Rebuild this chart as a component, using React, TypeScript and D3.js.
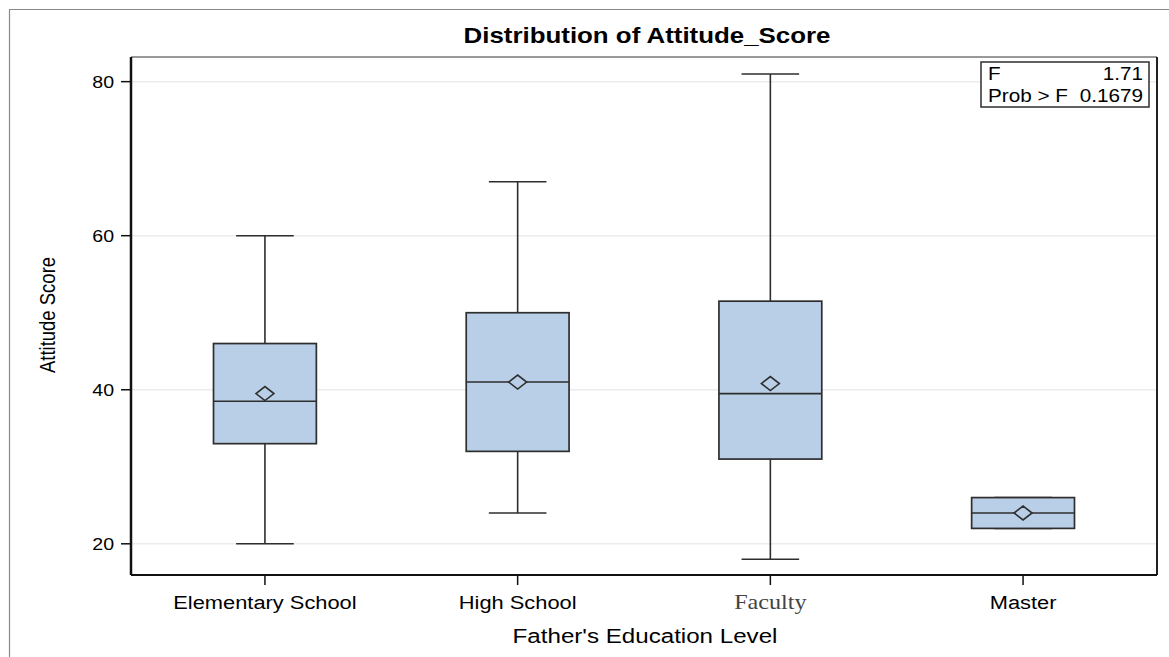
import React from "react";
import * as d3 from "d3";

// Box-plot summary per father's education level
const categories = ["Elementary School", "High School", "Faculty", "Master"];
const whiskerLow = [20, 24, 18, 22];
const q1 = [33, 32, 31, 22];
const median = [38.5, 41, 39.5, 24];
const q3 = [46, 50, 51.5, 26];
const whiskerHigh = [60, 67, 81, 26];
const means = [39.5, 41, 40.8, 24];
const yTicks = [20, 40, 60, 80];
const statLabels = ["F", "Prob > F"];
const statValues = ["1.71", "0.1679"];

const W = 1169;
const H = 657;
const plot = { left: 131, right: 1157, top: 57, bottom: 575 };
const STRETCH = 1.15;
const SANS = "'Liberation Sans', Arial, sans-serif";
const SERIF = "'Liberation Serif', 'Times New Roman', serif";
const BOX_FILL = "#b9cfe7";
const INK = "#2e2e2e";

// Horizontally widened text, as the output device renders it
function SText({ x, y, anchor = "start", size, weight = "normal", family = SANS, fill = "#000", children }: any) {
  return (
    <g transform={`translate(${x},${y}) scale(${STRETCH},1)`}>
      <text textAnchor={anchor} fontSize={size} fontWeight={weight} fontFamily={family} fill={fill}>
        {children}
      </text>
    </g>
  );
}

export default function App() {
  const y = d3.scaleLinear().domain([15.95, 83.2]).range([plot.bottom, plot.top]);
  const x = d3.scalePoint<string>().domain(categories).range([plot.left, plot.right]).padding(0.53);
  const boxW = x.step() * 0.407;
  const capW = boxW * 0.56;

  return (
    <svg width={W} height={H} style={{ position: "absolute", left: 0, top: 0, background: "#fff" }}>
      {/* outer frame */}
      <path d={`M9.5,${H} V9.5 H${W}`} fill="none" stroke="#8a8a8a" strokeWidth={1.2} />

      {/* title */}
      <SText x={(plot.left + plot.right) / 2 + 3} y={43} anchor="middle" size={22.5} weight="bold">
        Distribution of Attitude_Score
      </SText>

      {/* gridlines */}
      {yTicks.map((t) => (
        <line key={"g" + t} x1={plot.left} x2={plot.right} y1={y(t)} y2={y(t)} stroke="#ececec" strokeWidth={1.5} />
      ))}

      {/* boxes */}
      {categories.map((c, i) => {
        const cx = x(c)!;
        return (
          <g key={c}>
            <line x1={cx} x2={cx} y1={y(q3[i])} y2={y(whiskerHigh[i])} stroke={INK} strokeWidth={1.6} />
            <line x1={cx} x2={cx} y1={y(q1[i])} y2={y(whiskerLow[i])} stroke={INK} strokeWidth={1.6} />
            <line x1={cx - capW / 2} x2={cx + capW / 2} y1={y(whiskerHigh[i])} y2={y(whiskerHigh[i])} stroke={INK} strokeWidth={1.6} />
            <line x1={cx - capW / 2} x2={cx + capW / 2} y1={y(whiskerLow[i])} y2={y(whiskerLow[i])} stroke={INK} strokeWidth={1.6} />
            <rect
              x={cx - boxW / 2}
              y={y(q3[i])}
              width={boxW}
              height={y(q1[i]) - y(q3[i])}
              fill={BOX_FILL}
              stroke={INK}
              strokeWidth={1.7}
            />
            <line x1={cx - boxW / 2} x2={cx + boxW / 2} y1={y(median[i])} y2={y(median[i])} stroke={INK} strokeWidth={1.6} />
            <path
              d={`M${cx - 9},${y(means[i])} L${cx},${y(means[i]) - 7} L${cx + 9},${y(means[i])} L${cx},${y(means[i]) + 7} Z`}
              fill={BOX_FILL}
              stroke={INK}
              strokeWidth={1.6}
            />
          </g>
        );
      })}

      {/* plot frame and axes */}
      <line x1={plot.left} x2={plot.right} y1={plot.top} y2={plot.top} stroke="#777" strokeWidth={1.5} />
      <line x1={plot.right} x2={plot.right} y1={plot.top} y2={plot.bottom} stroke="#222" strokeWidth={2} />
      <line x1={plot.left} x2={plot.right} y1={plot.bottom} y2={plot.bottom} stroke="#111" strokeWidth={2} />
      <line x1={plot.left} x2={plot.left} y1={plot.top} y2={plot.bottom} stroke="#111" strokeWidth={2.5} />

      {/* y axis */}
      {yTicks.map((t) => (
        <g key={"t" + t}>
          <line x1={plot.left - 10} x2={plot.left} y1={y(t)} y2={y(t)} stroke="#111" strokeWidth={1.5} />
          <SText x={114} y={y(t) + 6.5} anchor="end" size={17}>
            {t}
          </SText>
        </g>
      ))}
      <g transform={`translate(55,315) scale(${STRETCH},1) rotate(-90)`}>
        <text textAnchor="middle" fontSize={18.5} fontFamily={SANS} fill="#000">
          Attitude Score
        </text>
      </g>

      {/* x axis */}
      {categories.map((c) => (
        <g key={"x" + c}>
          <line x1={x(c)!} x2={x(c)!} y1={plot.bottom} y2={plot.bottom + 10} stroke="#111" strokeWidth={1.5} />
          {c === "Faculty" ? (
            <SText x={x(c)!} y={609} anchor="middle" size={21} family={SERIF} fill="#444">
              {c}
            </SText>
          ) : (
            <SText x={x(c)!} y={609} anchor="middle" size={19}>
              {c}
            </SText>
          )}
        </g>
      ))}
      <SText x={(plot.left + plot.right) / 2 + 1} y={643} anchor="middle" size={21}>
        Father's Education Level
      </SText>

      {/* ANOVA statistics inset */}
      <rect x={981} y={62} width={168} height={45} fill="#fff" stroke={INK} strokeWidth={1.5} />
      {statLabels.map((s, i) => (
        <g key={s}>
          <SText x={988} y={80 + i * 22} size={18}>
            {s}
          </SText>
          <SText x={1143} y={80 + i * 22} anchor="end" size={18}>
            {statValues[i]}
          </SText>
        </g>
      ))}
    </svg>
  );
}
